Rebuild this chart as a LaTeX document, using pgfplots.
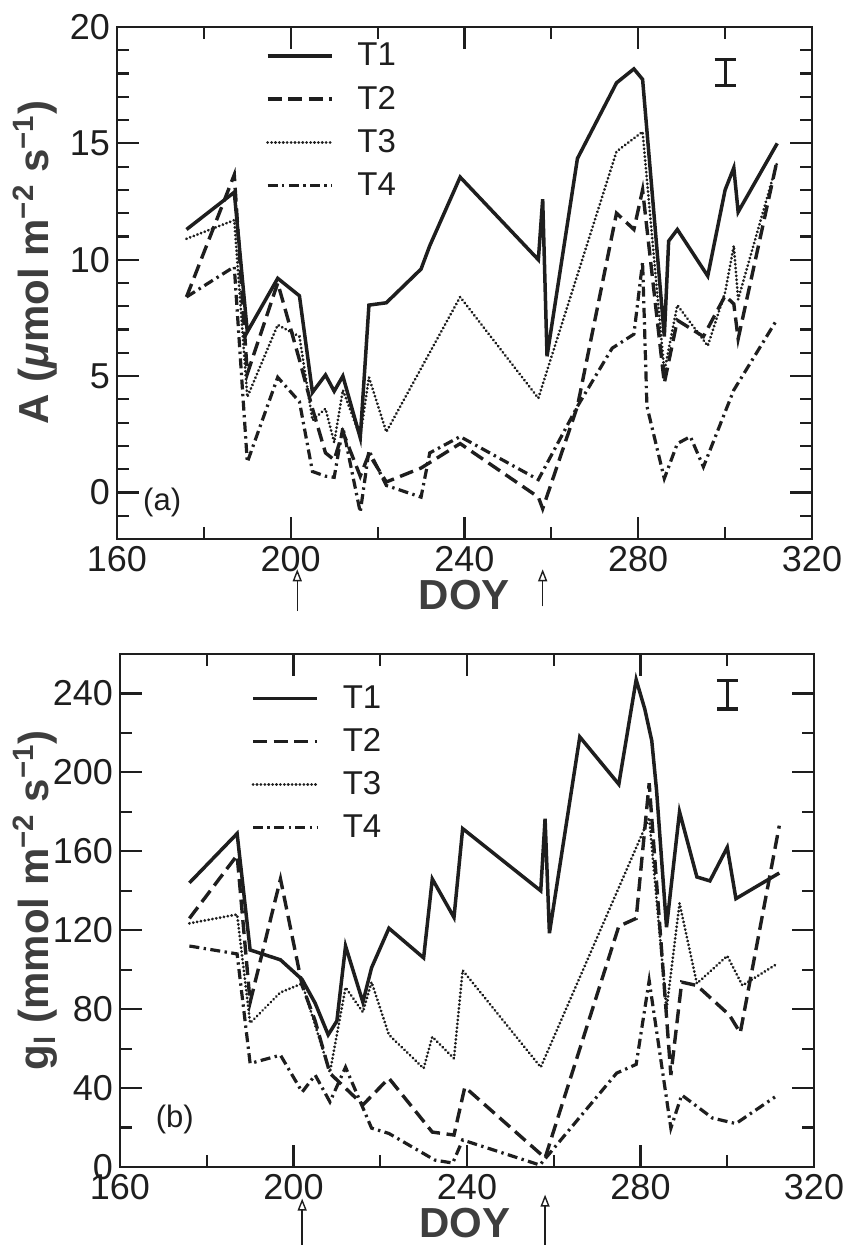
\documentclass[border=0pt]{standalone}
\usepackage{fontspec}
\setmainfont{Liberation Sans}
\usepackage{pgfplots}
\pgfplotsset{compat=1.18}
\usetikzlibrary{arrows.meta}

\definecolor{ink}{RGB}{30,30,30}
\definecolor{lbl}{RGB}{62,62,62}

\pgfplotsset{
  panel/.style={
    scale only axis, width=347.5pt, height=256pt,
    xmin=160, xmax=320,
    xtick={160,200,...,320}, minor xtick={180,220,260,300},
    axis line style={ink, line width=1.2pt},
    tick style={ink, line width=1.1pt},
    major tick length=11pt, minor tick length=6pt,
    tick align=inside,
    tick label style={font=\fontsize{18}{20}\selectfont, text=ink},
    /pgf/number format/assume math mode=true,
    label style={font=\bfseries\fontsize{21}{24}\selectfont, text=lbl},
    legend style={draw=none, fill=none, font=\fontsize{16.5}{19}\selectfont,
      row sep=4.6pt, text=ink},
    legend cell align=left,
    legend image code/.code={\draw[#1] (0pt,0pt) -- (32pt,0pt); \path (42pt,0pt);},
    clip=false,
  },
  t1/.style={ink, line width=1.75pt, solid, mark=none},
  t2/.style={ink, line width=1.7pt, dash pattern=on 7pt off 3.3pt, mark=none},
  t3/.style={ink, line width=1.5pt, line cap=round, dash pattern=on 0.05pt off 1.9pt, mark=none},
  t4/.style={ink, line width=1.6pt, dash pattern=on 5pt off 2.2pt on 1.2pt off 2.2pt, mark=none},
  bar/.style={draw=none, mark=none, forget plot,
    error bars/.cd, y dir=both, y explicit,
    error bar style={ink, line width=1.6pt, solid},
    error mark options={ink, rotate=90, mark size=5.25pt, line width=1.6pt}},
}

\begin{document}
\begin{tikzpicture}
\path[use as bounding box] (-58.5pt,269.5pt) rectangle (363.5pt,-355pt);

% (a) net assimilation
\begin{axis}[panel,
  at={(0pt,0pt)}, anchor=south west,
  ymin=-2, ymax=20,
  ytick={0,5,...,20}, minor ytick={-2,-1,...,20},
  xlabel={DOY},
  ylabel={A (\textit{μ}mol m\textsuperscript{−2} s\textsuperscript{−1})},
  xlabel style={at={(axis description cs:0.5,-0.11)}, anchor=center},
  ylabel style={at={(axis description cs:-0.118,0.54)}, anchor=center},
  legend style={at={(axis description cs:0.205,0.985)}, anchor=north west},
]
\addplot[t1] coordinates {
 (176,11.3) (187,12.9) (190,6.9) (197,9.2) (202,8.45) (205,4.3) (208,5.05)
 (210,4.35) (212,5.0) (216,2.35) (218,8.05) (222,8.15) (230,9.6) (232,10.6)
 (239,13.55) (257,10.0) (258,12.6) (259,5.85) (266,14.35) (275,17.6) (279,18.2)
 (281,17.75) (286,6.7) (287,10.8) (289,11.3) (296,9.3) (300,13.0) (302,13.95)
 (303,12.05) (312,15.0)
};
\addplot[t2] coordinates {
 (176,8.4) (187,13.65) (190,5.1) (197,9.0) (202,5.7) (205,3.6) (208,1.7)
 (210,1.4) (212,2.6) (216,0.7) (218,1.65) (222,0.45) (230,1.05) (239,2.1)
 (257,-0.2) (258,-0.7) (266,3.7) (275,12.0) (279,11.3) (281,13.0) (286,4.7)
 (289,7.4) (295,6.7) (300,8.45) (302,8.1) (303,6.6) (312,14.3)
};
\addplot[t3] coordinates {
 (176,10.9) (187,11.7) (190,4.1) (197,7.2) (202,6.7) (205,3.1) (208,3.6)
 (210,2.15) (212,4.4) (216,2.4) (218,4.95) (222,2.6) (239,8.4) (257,4.05)
 (275,14.65) (281,15.5) (286,5.2) (289,8.05) (296,6.3) (300,8.6) (302,10.6)
 (303,8.3) (312,14.2)
};
\addplot[t4] coordinates {
 (176,8.4) (187,9.7) (190,1.3) (197,4.95) (202,3.9) (205,0.9) (208,0.7)
 (210,0.65) (212,2.8) (216,-0.85) (218,1.8) (222,0.3) (230,-0.2) (232,1.7)
 (239,2.4) (257,0.55) (266,3.7) (274,6.2) (279,6.8) (281,9.9) (282,3.7)
 (286,0.6) (289,2.1) (292,2.4) (295,1.1) (302,4.4) (312,7.45)
};
\legend{T1,T2,T3,T4}
\addplot[bar] coordinates {(300,18.05) +- (0,0.55)};
\node[font=\fontsize{15.5}{18}\selectfont, text=ink] at (axis description cs:0.065,0.072) {(a)};
\draw[ink, line width=0.7pt, -{Triangle[open, length=6pt, width=4.5pt]}]
  (axis cs:201.5,-5.1) -- (axis cs:201.5,-3.3);
\draw[ink, line width=0.7pt, -{Triangle[open, length=6pt, width=4.5pt]}]
  (axis cs:258,-4.9) -- (axis cs:258,-3.3);
\end{axis}

% (b) stomatal conductance
\begin{axis}[panel,
  at={(1.5pt,-314pt)}, anchor=south west,
  width=347pt, height=256.5pt,
  ymin=0, ymax=260,
  ytick={0,40,...,240}, minor ytick={20,60,...,220},
  xlabel={DOY},
  ylabel={g\textsubscript{l} (mmol m\textsuperscript{−2} s\textsuperscript{−1})},
  xlabel style={at={(axis description cs:0.497,-0.11)}, anchor=center},
  ylabel style={at={(axis description cs:-0.1225,0.52)}, anchor=center},
  legend style={at={(axis description cs:0.18,0.955)}, anchor=north west},
]
\addplot[t1] coordinates {
 (176,144) (187,169) (190,110) (197,105) (202,95) (205,83) (208,67) (210,74)
 (212,112) (216,83.5) (218,101) (222,121) (230,106) (232,146) (237,126.5)
 (239,171.5) (257,140) (258,176.5) (259,118.5) (266,218) (275,194) (279,247)
 (281,232) (282.6,216) (283.7,191) (286,121.5) (289,180) (293,147) (296,145)
 (300,162) (302,136) (312,149)
};
\addplot[t2] coordinates {
 (176,126) (187,158) (190,83.5) (197,146) (202,92) (205,74) (208.4,47.5)
 (216,31.5) (222,45) (232,17.7) (237,16.2) (239.5,40.5) (258,4.6) (275,122)
 (279,126) (282,194.5) (287,46.6) (289.5,93.7) (293,92) (300.5,77) (303,68)
 (312,173)
};
\addplot[t3] coordinates {
 (176,123.5) (187,128) (190,73) (197,88.5) (202,93) (208.4,48) (212,91)
 (216,78.5) (218,93.7) (222,67) (230,50) (232,66) (237,55) (239,99.7)
 (257,50.6) (282,177) (286,80) (289,133.7) (293,93) (300,107) (303.5,92)
 (311.5,103)
};
\addplot[t4] coordinates {
 (176,112) (187,108) (190,52.5) (197,56.7) (202,38) (205,46.6) (208.4,33)
 (212,50.6) (218,19.7) (222,17) (232.6,3.5) (236.7,2) (239,13.7) (256.8,1)
 (274.5,47.6) (279,52) (282,94.5) (287,19.7) (289.5,36.5) (296.6,24.8)
 (302,22) (311,35.5)
};
\legend{T1,T2,T3,T4}
\addplot[bar] coordinates {(300,239.3) +- (0,7.2)};
\node[font=\fontsize{15.5}{18}\selectfont, text=ink] at (axis description cs:0.079,0.092) {(b)};
\draw[ink, line width=0.7pt, -{Triangle[open, length=6pt, width=4.5pt]}]
  (axis cs:202,-39.5) -- (axis cs:202,-16);
\draw[ink, line width=0.7pt, -{Triangle[open, length=6pt, width=4.5pt]}]
  (axis cs:258,-39.5) -- (axis cs:258,-14);
\end{axis}
\end{tikzpicture}
\end{document}
